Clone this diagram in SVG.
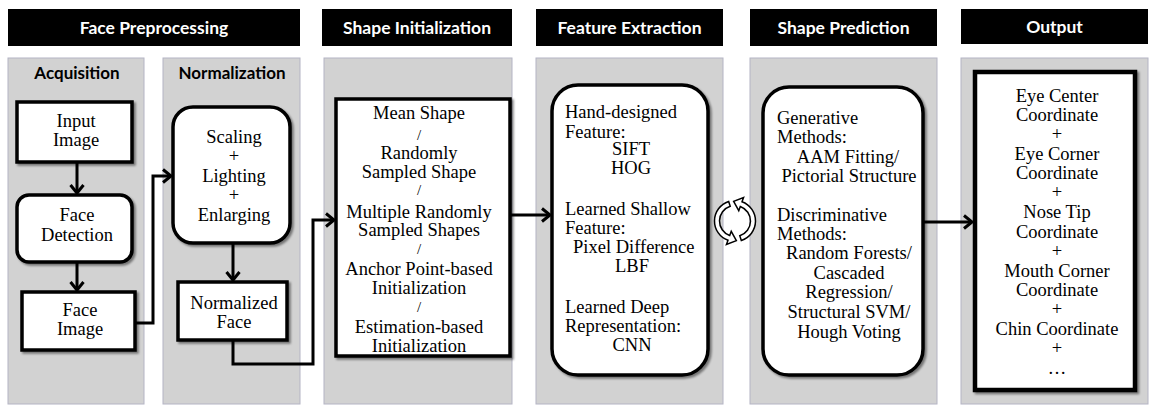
<svg xmlns="http://www.w3.org/2000/svg" width="1151" height="409" viewBox="0 0 1151 409">
<style>
.hdr{fill:#000}
.hdrt{font-family:Lato,"Liberation Sans",sans-serif;font-weight:bold;font-size:17.5px;fill:#fff;text-anchor:middle}
.panel{fill:#d2d2d2;stroke:#b4b4c4;stroke-width:1}
.sub{font-family:Lato,"Liberation Sans",sans-serif;font-weight:bold;font-size:17px;fill:#000;text-anchor:middle}
.box{fill:#fff;stroke:#000;stroke-width:3.5;filter:url(#sh)}
.t{font-family:"Liberation Serif","Times New Roman",serif;font-size:18.5px;fill:#000}
.c{text-anchor:middle}
.sl{font-size:15px}
.con{fill:none;stroke:#000;stroke-width:3}
</style>
<defs>
<filter id="sh" x="-10%" y="-10%" width="120%" height="120%">
<feDropShadow dx="2" dy="2" stdDeviation="1.2" flood-color="#000" flood-opacity="0.45"/>
</filter>
<marker id="ah" markerUnits="userSpaceOnUse" markerWidth="16" markerHeight="18" refX="10" refY="8" orient="auto" viewBox="0 0 16 16">
<path d="M2,1.5 L10,8 L2,14.5" fill="none" stroke="#000" stroke-width="3" stroke-linejoin="miter"/>
</marker>
</defs>

<g id="headers">
<rect class="hdr" x="8" y="9" width="292" height="37"/>
<text class="hdrt" x="154" y="34">Face Preprocessing</text>
<rect class="hdr" x="322" y="9" width="190" height="37"/>
<text class="hdrt" x="417" y="34">Shape Initialization</text>
<rect class="hdr" x="536" y="9" width="187" height="37"/>
<text class="hdrt" x="629.5" y="34">Feature Extraction</text>
<rect class="hdr" x="750" y="9" width="187" height="37"/>
<text class="hdrt" x="843.5" y="34">Shape Prediction</text>
<rect class="hdr" x="961" y="9" width="187" height="35"/>
<text class="hdrt" x="1054.5" y="33">Output</text>
</g>

<g id="panels">
<rect class="panel" x="8" y="58" width="136" height="346"/>
<rect class="panel" x="163" y="58" width="137" height="346"/>
<rect class="panel" x="324" y="58" width="188" height="346"/>
<rect class="panel" x="536" y="58" width="187" height="346"/>
<rect class="panel" x="750" y="58" width="187" height="346"/>
<rect class="panel" x="961" y="58" width="187" height="346"/>
<text class="sub" x="77" y="79">Acquisition</text>
<text class="sub" x="232" y="79">Normalization</text>
</g>

<g id="connectors">
<line class="con" x1="77" y1="162" x2="77" y2="193" marker-end="url(#ah)"/>
<line class="con" x1="77" y1="262" x2="77" y2="290" marker-end="url(#ah)"/>
<path class="con" d="M135,323 H153 V176 H171" marker-end="url(#ah)"/>
<line class="con" x1="233" y1="243" x2="233" y2="280" marker-end="url(#ah)"/>
<path class="con" d="M233,340 V364 H313 V220 H334" marker-end="url(#ah)"/>
<line class="con" x1="510" y1="215" x2="550" y2="215" marker-end="url(#ah)"/>
<line class="con" x1="923" y1="222" x2="972" y2="222" marker-end="url(#ah)"/>
<g id="cycle" fill="#fff" stroke="#000" stroke-width="1.5" stroke-linejoin="miter">
<path d="M728.67,201.50 A20.5,20.5 0 0 0 727.99,240.27 L726.45,244.50 L736.36,240.66 L731.24,231.34 L729.70,235.57 A15.5,15.5 0 0 1 730.21,206.26 Z"/>
<path d="M741.33,240.50 A20.5,20.5 0 0 0 742.01,201.73 L743.55,197.51 L733.64,201.35 L738.76,210.66 L740.30,206.43 A15.5,15.5 0 0 1 739.79,235.74 Z"/>
</g>
</g>

<g id="input-image">
<rect class="box" x="17" y="102" width="115" height="60"/>
<text class="t c" x="76" y="127">Input</text>
<text class="t c" x="76" y="146">Image</text>
</g>

<g id="face-detection">
<rect class="box" x="17" y="195" width="115" height="67" rx="12"/>
<text class="t c" x="77" y="221">Face</text>
<text class="t c" x="77" y="241">Detection</text>
</g>

<g id="face-image">
<rect class="box" x="22" y="292" width="113" height="58"/>
<text class="t c" x="80" y="316">Face</text>
<text class="t c" x="80" y="335">Image</text>
</g>

<g id="normalization-ops">
<rect class="box" x="173" y="107" width="117" height="136" rx="20"/>
<text class="t c" x="234" y="143">Scaling</text>
<text class="t c" x="234" y="162">+</text>
<text class="t c" x="234" y="182">Lighting</text>
<text class="t c" x="234" y="201">+</text>
<text class="t c" x="234" y="221">Enlarging</text>
</g>

<g id="normalized-face">
<rect class="box" x="178" y="282" width="109" height="58"/>
<text class="t c" x="234" y="309">Normalized</text>
<text class="t c" x="234" y="328">Face</text>
</g>

<g id="shape-initialization">
<rect class="box" x="336" y="99" width="174" height="257"/>
<text class="t c" x="419" y="119">Mean Shape</text>
<text class="t c sl" x="419" y="140">/</text>
<text class="t c" x="419" y="159">Randomly</text>
<text class="t c" x="419" y="178">Sampled Shape</text>
<text class="t c sl" x="419" y="195">/</text>
<text class="t c" x="419" y="218">Multiple Randomly</text>
<text class="t c" x="419" y="236">Sampled Shapes</text>
<text class="t c sl" x="419" y="254">/</text>
<text class="t c" x="419" y="275">Anchor Point-based</text>
<text class="t c" x="419" y="294">Initialization</text>
<text class="t c sl" x="419" y="312">/</text>
<text class="t c" x="419" y="333">Estimation-based</text>
<text class="t c" x="419" y="352">Initialization</text>
</g>

<g id="feature-extraction">
<rect class="box" x="552" y="85" width="156" height="290" rx="26"/>
<text class="t" x="565" y="118">Hand-designed</text>
<text class="t" x="565" y="138">Feature:</text>
<text class="t c" x="631" y="155">SIFT</text>
<text class="t c" x="631" y="174">HOG</text>
<text class="t" x="565" y="215">Learned Shallow</text>
<text class="t" x="565" y="234">Feature:</text>
<text class="t" x="573" y="253">Pixel Difference</text>
<text class="t c" x="632" y="272">LBF</text>
<text class="t" x="565" y="313">Learned Deep</text>
<text class="t" x="565" y="332">Representation:</text>
<text class="t c" x="632" y="351">CNN</text>
</g>

<g id="shape-prediction">
<rect class="box" x="763" y="87" width="160" height="288" rx="26"/>
<text class="t" x="777" y="124">Generative</text>
<text class="t" x="777" y="143">Methods:</text>
<text class="t c" x="848" y="163">AAM Fitting/</text>
<text class="t c" x="849" y="182">Pictorial Structure</text>
<text class="t" x="777" y="221">Discriminative</text>
<text class="t" x="777" y="240">Methods:</text>
<text class="t c" x="849" y="259">Random Forests/</text>
<text class="t c" x="849" y="279">Cascaded</text>
<text class="t c" x="849" y="298">Regression/</text>
<text class="t c" x="849" y="318">Structural SVM/</text>
<text class="t c" x="849" y="338">Hough Voting</text>
</g>

<g id="output">
<rect class="box" x="975" y="72" width="160" height="318" style="stroke-width:4.5"/>
<text class="t c" x="1057" y="102">Eye Center</text>
<text class="t c" x="1057" y="121">Coordinate</text>
<text class="t c" x="1057" y="140">+</text>
<text class="t c" x="1057" y="160">Eye Corner</text>
<text class="t c" x="1057" y="179">Coordinate</text>
<text class="t c" x="1057" y="198">+</text>
<text class="t c" x="1057" y="218">Nose Tip</text>
<text class="t c" x="1057" y="238">Coordinate</text>
<text class="t c" x="1057" y="257">+</text>
<text class="t c" x="1057" y="277">Mouth Corner</text>
<text class="t c" x="1057" y="296">Coordinate</text>
<text class="t c" x="1057" y="315">+</text>
<text class="t c" x="1057" y="335">Chin Coordinate</text>
<text class="t c" x="1057" y="354">+</text>
<text class="t c" x="1057" y="374">…</text>
</g>
</svg>
